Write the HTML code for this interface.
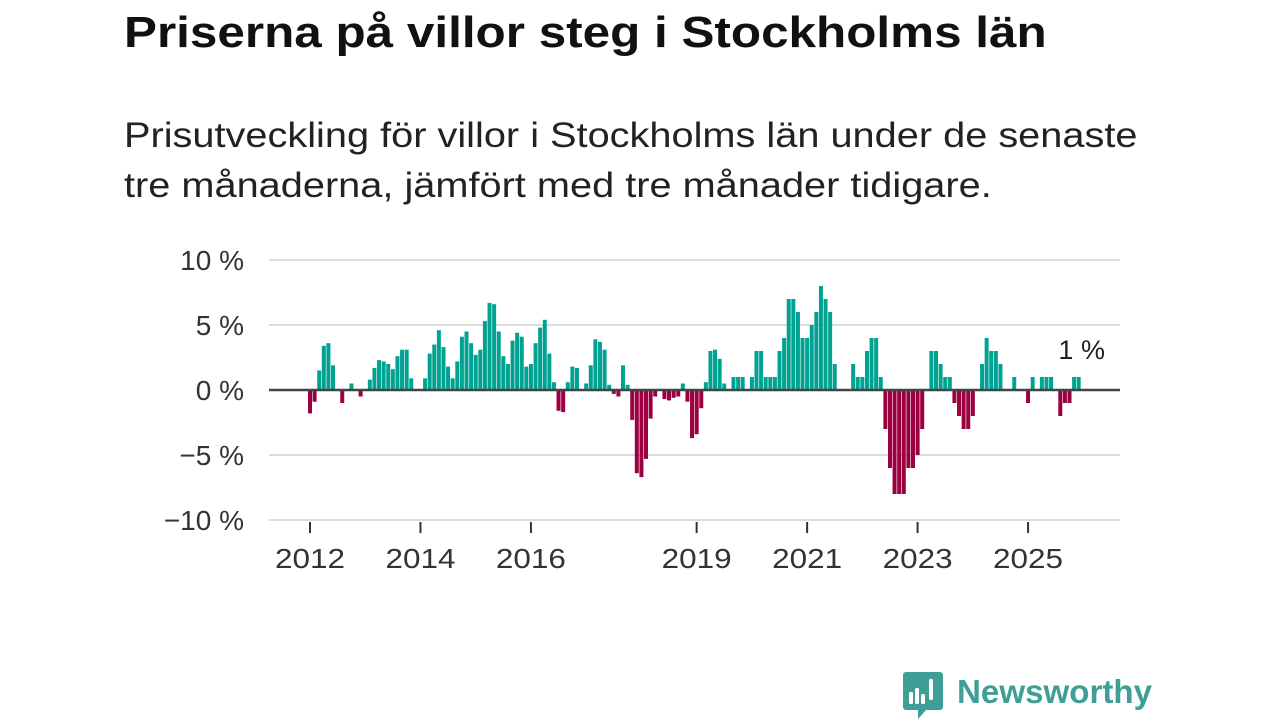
<!DOCTYPE html>
<html><head><meta charset="utf-8">
<style>
html,body{margin:0;padding:0;background:#fff;}
body{width:1280px;height:720px;position:relative;overflow:hidden;font-family:"Liberation Sans",sans-serif;}
#title{position:absolute;left:124px;top:8px;font-size:44px;font-weight:bold;color:#111;white-space:nowrap;transform-origin:0 0;transform:scaleX(1.123);}
#sub{position:absolute;left:124px;top:111px;font-size:35px;line-height:50px;color:#222;white-space:nowrap;transform-origin:0 0;transform:scaleX(1.135);}
svg{position:absolute;left:0;top:0;}
</style></head><body>
<div id="title">Priserna på villor steg i Stockholms län</div>
<div id="sub">Prisutveckling för villor i Stockholms län under de senaste<br>tre månaderna, jämfört med tre månader tidigare.</div>
<svg id="chart" width="1280" height="720"></svg>
<script>
const values=[-1.8,-0.9,1.5,3.4,3.6,1.9,0,-1.0,0,0.5,0,-0.5,
0,0.8,1.7,2.3,2.2,2.0,1.6,2.6,3.1,3.1,0.9,0,
0,0.9,2.8,3.5,4.6,3.3,1.8,0.9,2.2,4.1,4.5,3.6,
2.7,3.1,5.3,6.7,6.6,4.5,2.6,2.0,3.8,4.4,4.1,1.8,
2.0,3.6,4.8,5.4,2.8,0.6,-1.6,-1.7,0.6,1.8,1.7,0,
0.5,1.9,3.9,3.7,3.1,0.4,-0.3,-0.5,1.9,0.4,-2.3,-6.4,
-6.7,-5.3,-2.2,-0.5,0,-0.7,-0.8,-0.6,-0.5,0.5,-0.9,-3.7,
-3.4,-1.4,0.6,3.0,3.1,2.4,0.5,0,1.0,1.0,1.0,0,
1.0,3.0,3.0,1.0,1.0,1.0,3.0,4.0,7.0,7.0,6.0,4.0,
4.0,5.0,6.0,8.0,7.0,6.0,2.0,0,0,0,2.0,1.0,
1.0,3.0,4.0,4.0,1.0,-3,-6,-8,-8,-8,-6,-6,
-5,-3,0,3,3,2,1,1,-1,-2,-3,-3,
-2,0,2,4,3,3,2,0,0,1,0,0,
-1,1,0,1,1,1,0,-2,-1,-1,1,1];
const yTicks=[10,5,0,-5,-10];
const yTickLabels=["10 %","5 %","0 %","\u22125 %","\u221210 %"];
const xTickMonths=[0,24,48,84,108,132,156];
const xTickLabels=["2012","2014","2016","2019","2021","2023","2025"];
const lastLabel="1 %";

const svg=document.getElementById('chart');
const NS='http://www.w3.org/2000/svg';
const x0=310, pitch=4.603, left=269, right=1120;
const X=m=>x0+m*pitch;
const Y=v=>390-v*13;
function mk(t,a){const e=document.createElementNS(NS,t);for(const k in a)e.setAttribute(k,a[k]);svg.appendChild(e);return e;}

yTicks.forEach((v,i)=>{
  if(v!==0){const g=mk('line',{x1:left,x2:right,y1:Y(v),y2:Y(v),stroke:'#dcdcdc','stroke-width':2});
  
  }
  const t=mk('text',{x:244,y:Y(v)+10,'text-anchor':'end','font-size':28,fill:'#333','font-family':'Liberation Sans, sans-serif'});
  t.textContent=yTickLabels[i];
  
  
});
xTickMonths.forEach((m,i)=>{
  const l=mk('line',{x1:X(m),x2:X(m),y1:522,y2:533,stroke:'#333','stroke-width':2});
  
  
  const t=mk('text',{x:X(m),y:568,'text-anchor':'middle','font-size':28,fill:'#333','font-family':'Liberation Sans, sans-serif',textLength:70,lengthAdjust:'spacingAndGlyphs'});
  t.textContent=xTickLabels[i];
  
  
});
values.forEach((v,m)=>{
  if(v===0)return;
  const y1=Y(Math.max(v,0)), y2=Y(Math.min(v,0));
  const r=mk('rect',{x:X(m)-2,y:y1,width:4,height:y2-y1,fill:v>0?'#00a392':'#9c0040'});
  
  
});
const z=mk('line',{x1:left,x2:right,y1:390,y2:390,stroke:'#444','stroke-width':2.5});


const lab=mk('text',{x:X(values.length-1)+3,y:359,'text-anchor':'middle','font-size':27,fill:'#222','font-family':'Liberation Sans, sans-serif'});
lab.textContent=lastLabel;



const g=mk('g',{});


const ic=document.createElementNS(NS,'path');
ic.setAttribute('d','M906 672 h34 a3 3 0 0 1 3 3 v32 a3 3 0 0 1 -3 3 h-14 l-8 9 v-9 h-12 a3 3 0 0 1 -3 -3 v-32 a3 3 0 0 1 3 -3z');
ic.setAttribute('fill','#3f9f97');g.appendChild(ic);
[[909,692,4,12],[915,688,4,16],[921,694,4,10],[929,679,4,21]].forEach(b=>{const r=document.createElementNS(NS,'rect');r.setAttribute('x',b[0]);r.setAttribute('y',b[1]);r.setAttribute('width',b[2]);r.setAttribute('height',b[3]);r.setAttribute('fill','#fff');r.setAttribute('rx',1.5);g.appendChild(r);});
const nt=document.createElementNS(NS,'text');
nt.setAttribute('x',957);nt.setAttribute('y',703);nt.setAttribute('font-size',33);nt.setAttribute('font-weight','bold');nt.setAttribute('fill','#3f9f97');nt.setAttribute('font-family','Liberation Sans, sans-serif');
nt.setAttribute('textLength',195);nt.setAttribute('lengthAdjust','spacingAndGlyphs');
nt.textContent='Newsworthy';g.appendChild(nt);
</script>
</body></html>
